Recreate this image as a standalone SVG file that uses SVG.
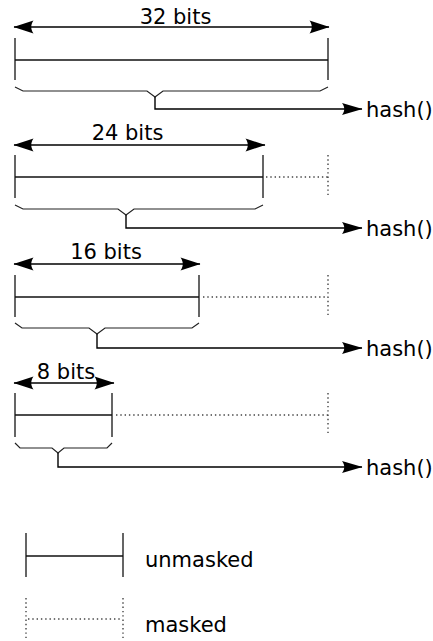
<svg xmlns="http://www.w3.org/2000/svg" width="433" height="641" viewBox="0 0 433 641">
<style>
.t{font-family:"DejaVu Sans",sans-serif;font-size:21px;fill:#000}
.m{text-anchor:middle}
.tick{stroke:#333;stroke-width:1.5;fill:none}
.bar{stroke:#111;stroke-width:1.4;fill:none}
.dot{stroke:#444;stroke-width:1.4;stroke-dasharray:1.4 2.9;fill:none}
.brace{stroke:#222;stroke-width:1.2;fill:none}
.dim{stroke:#000;stroke-width:1.4;fill:none;marker-start:url(#ah);marker-end:url(#ah)}
.out{stroke:#000;stroke-width:1.4;fill:none;marker-end:url(#ah2)}
</style>
<defs>
<marker id="ah" markerUnits="userSpaceOnUse" markerWidth="26" markerHeight="18" viewBox="-23 -9 26 18" refX="0" refY="0" orient="auto-start-reverse">
<path d="M0.5,0 L-19.5,-6.5 C-16.5,-2.5 -16.5,2.5 -19.5,6.5 Z" fill="#000"/>
</marker>
<marker id="ah2" markerUnits="userSpaceOnUse" markerWidth="26" markerHeight="18" viewBox="-23 -9 26 18" refX="0" refY="0" orient="auto">
<path d="M0.5,0 L-20,-6 C-17,-2.3 -17,2.3 -20,6 Z" fill="#000"/>
</marker>
</defs>
<g id="row32">
<text class="t m" x="175.5" y="24">32 bits</text>
<path class="tick" d="M15,38V80M328,38V80"/>
<path class="bar" d="M15,60H328"/>
<path class="brace" d="M15,87L23,91H147L155,97L163,91H320L328,87"/>
<text class="t" x="366" y="117">hash()</text>
</g>
<g id="row24">
<text class="t m" x="127.5" y="140">24 bits</text>
<path class="tick" d="M15,155V198M263,155V198"/>
<path class="bar" d="M15,177H263"/>
<path class="dot" d="M266,177H328M328,155V195"/>
<path class="brace" d="M15,205L23,209H118L126,215L134,209H255L263,205"/>
<text class="t" x="366" y="236">hash()</text>
</g>
<g id="row16">
<text class="t m" x="106" y="259">16 bits</text>
<path class="tick" d="M15,275V317M199,275V317"/>
<path class="bar" d="M15,297H199"/>
<path class="dot" d="M203,297H328M328,275V315"/>
<path class="brace" d="M15,323L22,328H89L97,334L105,328H192L199,323"/>
<text class="t" x="366" y="356">hash()</text>
</g>
<g id="row8">
<text class="t m" x="66" y="379">8 bits</text>
<path class="tick" d="M15,393V437M112,393V437"/>
<path class="bar" d="M15,415H112"/>
<path class="dot" d="M116,415H328M328,393V434"/>
<path class="brace" d="M15,443L20,448H52L58,453L64,448H107L112,443"/>
<text class="t" x="366" y="475">hash()</text>
</g>
<g id="legend-unmasked">
<path class="tick" d="M26,533V577M123,533V577"/>
<path class="bar" d="M26,556H123"/>
<text class="t" x="145" y="567">unmasked</text>
</g>
<g id="legend-masked">
<path class="dot" d="M26,598V641M123,598V641M28,619H121"/>
<text class="t" x="145" y="632">masked</text>
</g>
<g id="connectors">
<path class="dim" d="M14,27H329"/>
<path class="dim" d="M14,145H265"/>
<path class="dim" d="M14,264H200"/>
<path class="dim" d="M14,383H114"/>
<path class="out" d="M155,97V109H362"/>
<path class="out" d="M126,215V228H362"/>
<path class="out" d="M97,334V348H362"/>
<path class="out" d="M58,453V467H362"/>
</g>
</svg>
